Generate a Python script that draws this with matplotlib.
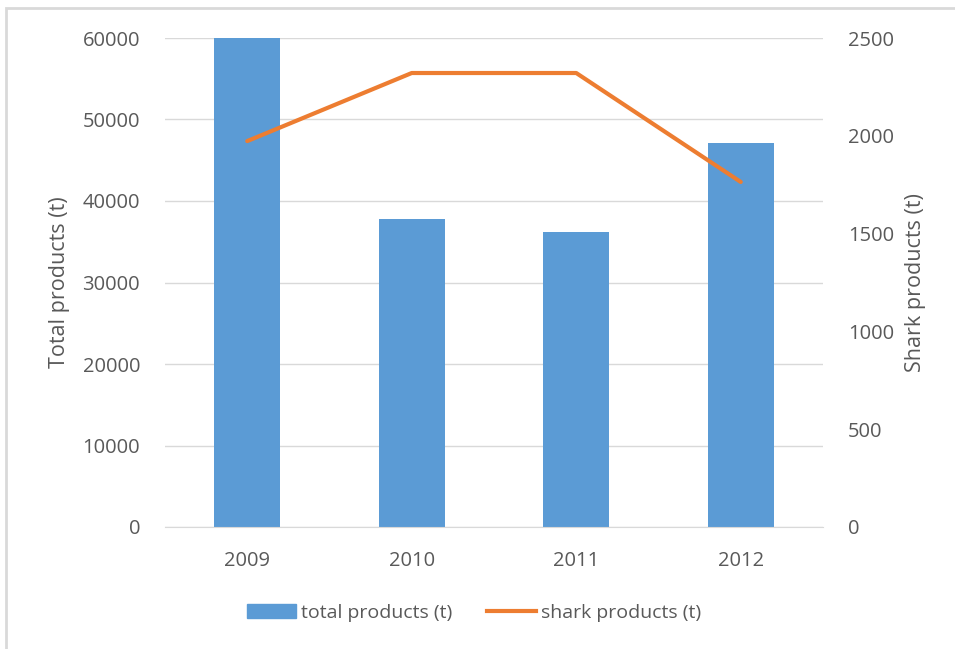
import matplotlib.pyplot as plt
from matplotlib.patches import Rectangle
from matplotlib.lines import Line2D

plt.rcParams['font.family'] = ['Open Sans', 'DejaVu Sans']

years = ['2009', '2010', '2011', '2012']
total_products = [60000, 37800, 36200, 47100]
shark_products = [1973, 2321, 2321, 1764]

W, H = 955, 649
fig = plt.figure(figsize=(W / 100, H / 100), dpi=100)

# light outer frame like the spreadsheet chart box
fig.patches.append(Rectangle((6 / W, -0.1), 1.2, 1 - 8 / H + 0.1, transform=fig.transFigure,
                             fill=False, edgecolor='#d9d9d9', linewidth=2))

left, right, top, bottom = 165, 823, 38, 527
ax = fig.add_axes([left / W, 1 - bottom / H, (right - left) / W, (bottom - top) / H])
ax2 = ax.twinx()

txt = '#595959'
x = range(len(years))
ax.bar(x, total_products, width=0.4, color='#5b9bd5', zorder=2)
ax2.plot(x, shark_products, color='#ed7d31', linewidth=3, solid_capstyle='round', zorder=3)

ax.set_xlim(-0.5, len(years) - 0.5)
ax.set_ylim(0, 60000)
ax2.set_ylim(0, 2500)
ax.set_yticks(range(0, 60001, 10000))
ax2.set_yticks(range(0, 2501, 500))
ax.set_xticks(list(x))
ax.set_xticklabels(years)

ax.grid(axis='y', color='#d9d9d9', linewidth=1, zorder=0)
ax.set_axisbelow(True)
for a in (ax, ax2):
    for s in a.spines.values():
        s.set_visible(False)
    a.tick_params(length=0, labelsize=14.5, colors=txt)
ax.spines['bottom'].set_visible(True)
ax.spines['bottom'].set_color('#d9d9d9')
ax.tick_params(axis='y', pad=18)
ax.tick_params(axis='x', pad=17)
ax2.tick_params(axis='y', pad=18)

ax.set_ylabel('Total products (t)', fontsize=15.5, color=txt, labelpad=9)
ax2.set_ylabel('Shark products (t)', fontsize=15.5, color=txt, labelpad=8)

handles = [Rectangle((0, 0), 1, 1, color='#5b9bd5'),
           Line2D([0], [0], color='#ed7d31', linewidth=3)]
fig.legend(handles, ['total products (t)', 'shark products (t)'], loc='center',
           bbox_to_anchor=(474 / W, 1 - 613 / H), ncol=2, frameon=False,
           fontsize=14, labelcolor=txt, handlelength=2.5, handletextpad=0.25,
           columnspacing=1.8)

fig.savefig('out.png', dpi=100)
